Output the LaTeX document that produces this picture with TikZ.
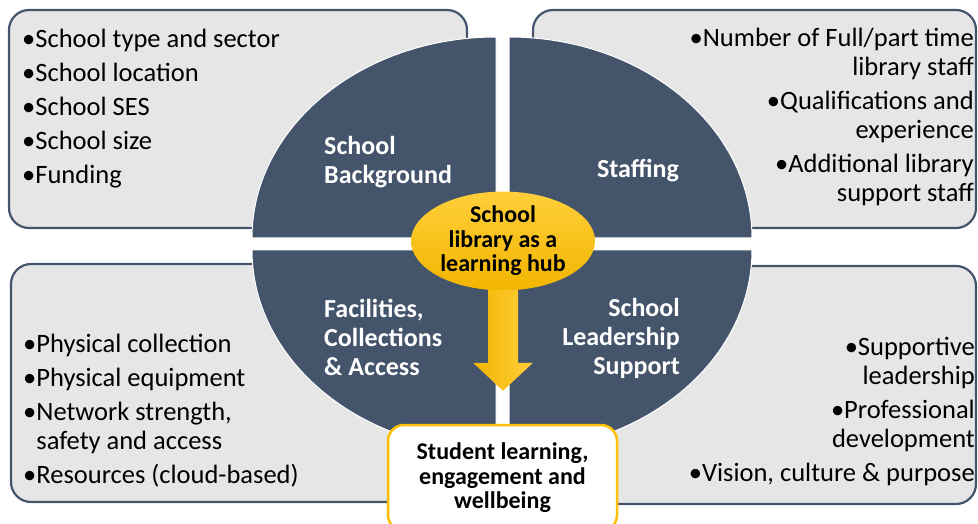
\documentclass[tikz,border=0pt]{standalone}
\usepackage{fontspec}
\setmainfont{Carlito}
\usetikzlibrary{shapes.geometric,calc}
\definecolor{ardoise}{HTML}{44546A}
\definecolor{grisclair}{HTML}{E7E6E6}
\definecolor{or}{HTML}{FFC000}
\definecolor{orclair}{HTML}{FFCF3A}
\definecolor{orfonce}{HTML}{F2B500}

\begin{document}
\begin{tikzpicture}[x=1pt,y=1pt,
  cadre/.style={draw=ardoise,line width=2.2pt,fill=grisclair,rounded corners=20pt},
  quart/.style={fill=ardoise,draw=white,line width=1pt},
  titre/.style={text=white,inner sep=0pt,font=\fontsize{26}{29}\selectfont\bfseries},
  liste/.style={inner sep=0pt,font=\fontsize{26.5}{29}\selectfont}]
% Bibliotheque scolaire au centre des quatre domaines
\useasboundingbox (0,0) rectangle (978,523);
\clip (0,0) rectangle (978,523);
\draw[cadre] (9,513) rectangle (467,295);
\draw[cadre] (533,513) rectangle (976,295);
\draw[cadre] (11,259) rectangle (500,21);
\draw[cadre] (505,257) rectangle (976,19);
% le disque en quatre quarts
\fill[white] (496,19) rectangle (509,273);
\draw[quart] (496,285) -- ++(-244,0) arc[start angle=180,end angle=90,x radius=244,y radius=201] -- cycle;
\draw[quart] (509,285) -- ++(0,201) arc[start angle=90,end angle=0,x radius=243,y radius=201] -- cycle;
\draw[quart] (496,273) -- ++(-244,0) arc[start angle=180,end angle=270,x radius=244,y radius=201] -- cycle;
\draw[quart] (509,273) -- ++(0,-201) arc[start angle=270,end angle=360,x radius=243,y radius=201] -- cycle;
\node[titre,anchor=west,align=left] (contexte) at (324,361) {School\\Background};
\node[titre] (personnel) at (638,352) {Staffing};
\node[titre,anchor=west,align=left] (equipement) at (324,186) {Facilities,\\Collections\\\& Access};
\node[titre,anchor=east,align=right] (direction) at (680,185) {School\\Leadership\\Support};
% les listes
\node[liste,anchor=west,align=left] (listecontexte) at (22,414) {•School type and sector\\[5pt]•School location\\[5pt]•School SES\\[5pt]•School size\\[5pt]•Funding};
\node[liste,anchor=east,align=right] (listepersonnel) at (974,406) {•Number of Full/part time\\library staff\\[5pt]•Qualifications and\\experience\\[5pt]•Additional library\\support staff};
\node[liste,anchor=west,align=left] (listeequipement) at (23,112) {•Physical collection\\[5pt]•Physical equipment\\[5pt]•Network strength,\\\phantom{•}safety and access\\[5pt]•Resources (cloud-based)};
\node[liste,anchor=east,align=right] (listedirection) at (975,112) {•Supportive\\leadership\\[5pt]•Professional\\development\\[5pt]•Vision, culture \& purpose};
% centre, fleche et resultat
\node[ellipse,minimum width=184pt,minimum height=98pt,inner sep=0pt,top color=orclair,bottom color=orfonce,align=center,font=\fontsize{24}{24.5}\selectfont\bfseries] (hub) at (503,282) {School\\library as a\\learning hub\vphantom{g}};
\node[draw=or,line width=2.5pt,fill=white,rounded corners=16pt,minimum width=229pt,minimum height=106pt,align=center,font=\fontsize{24}{24.5}\selectfont\bfseries] (resultat) at (502.5,45) {Student learning,\\engagement and\\wellbeing};
\coordinate (pointe) at ($(resultat.north)+(0.5,33)$);
\shade[left color=orfonce,right color=orclair] ($(hub.south)+(-15,1)$) -- ($(pointe)+(-15,28)$) -- ($(pointe)+(-30,28)$) -- (pointe) -- ($(pointe)+(30,28)$) -- ($(pointe)+(15,28)$) -- ($(hub.south)+(15,1)$) -- cycle;
\end{tikzpicture}
\end{document}
